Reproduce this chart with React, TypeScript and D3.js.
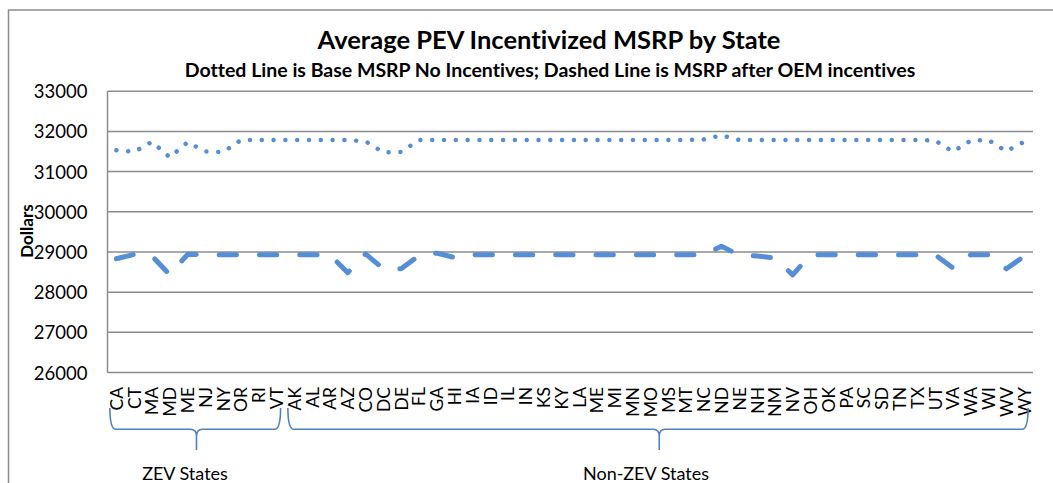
import React from "react";
import * as d3 from "d3";

const states = ["CA","CT","MA","MD","ME","NJ","NY","OR","RI","VT","AK","AL","AR","AZ","CO","DC","DE","FL","GA","HI","IA","ID","IL","IN","KS","KY","LA","ME","MI","MN","MO","MS","MT","NC","ND","NE","NH","NM","NV","OH","OK","PA","SC","SD","TN","TX","UT","VA","WA","WI","WV","WY"];

// Dotted line: Base MSRP, no incentives
const baseMSRP = [31530,31490,31740,31355,31730,31500,31485,31785,31785,31785,31785,31785,31785,31785,31750,31480,31490,31785,31785,31785,31785,31785,31785,31785,31785,31785,31785,31785,31785,31785,31785,31785,31785,31800,31900,31785,31785,31785,31785,31785,31785,31785,31785,31785,31785,31785,31770,31495,31770,31785,31505,31740];

// Dashed line: MSRP after OEM incentives
const oemMSRP = [28830,28940,28900,28430,28940,28930,28930,28930,28930,28930,28930,28930,28930,28485,28950,28580,28580,28910,28970,28860,28930,28930,28930,28930,28930,28930,28930,28930,28930,28930,28930,28930,28930,28930,29140,28920,28900,28850,28430,28930,28930,28930,28930,28930,28930,28930,28930,28600,28930,28930,28580,28890];

const yTicks = [26000,27000,28000,29000,30000,31000,32000,33000];

const groups = [
  { label: "ZEV States", first: 0, last: 9 },
  { label: "Non-ZEV States", first: 10, last: 51 },
];

const title = "Average PEV Incentivized MSRP by State";
const subtitle = "Dotted Line is Base MSRP No Incentives; Dashed Line is MSRP after OEM incentives";

const W = 1053, H = 483;
const plot = { left: 107.5, right: 1033, top: 91.2, bottom: 372.5 };
const FONT = "Lato, 'Open Sans', sans-serif";
const LINE = "#558ed5";
const GRID = "#8c8c8c";
const BRACE = "#4f81bd";

export default function App() {
  const idx = states.map((_, i) => String(i));
  const x = d3.scaleBand<string>().domain(idx).range([plot.left, plot.right]).padding(0);
  const cx = (i: number) => (x(String(i)) as number) + x.bandwidth() / 2;
  const y = d3.scaleLinear().domain([26000, 33000]).range([plot.bottom, plot.top]);

  const line = d3.line<number>().x((_, i) => cx(i)).y((d) => y(d)).curve(d3.curveLinear);

  const braceY0 = 408, braceY1 = 429.3, braceTip = 450;
  const bracePath = (g: { first: number; last: number }) => {
    const x0 = cx(g.first) - 6.5;
    const x1 = cx(g.last) + 4;
    const m = (cx(g.first) + cx(g.last)) / 2;
    const r = 6;
    return `M${x0},${braceY0} Q${x0},${braceY1} ${x0 + r},${braceY1} L${m - r},${braceY1} Q${m},${braceY1} ${m},${braceY1 + 7} L${m},${braceTip} M${m},${braceY1 + 7} Q${m},${braceY1} ${m + r},${braceY1} L${x1 - r},${braceY1} Q${x1},${braceY1} ${x1},${braceY0}`;
  };

  return (
    <svg width={W} height={H} style={{ position: "absolute", left: 0, top: 0, background: "#fff", fontVariantLigatures: "none" }} fontFamily={FONT}>
      <rect x={0} y={0} width={W} height={H} fill="#fff" />
      <rect x={8.5} y={10} width={1200} height={700} fill="none" stroke={GRID} strokeWidth={1.5} />

      <text x={549} y={49} textAnchor="middle" fontWeight="bold" fontSize={25.5} fill="#000">{title}</text>
      <text x={550} y={77} textAnchor="middle" fontWeight="bold" fontSize={19.5} fill="#000">{subtitle}</text>

      {yTicks.map((t) => (
        <g key={t}>
          <line x1={plot.left} x2={plot.right} y1={y(t)} y2={y(t)} stroke={GRID} strokeWidth={1.5} />
          <text x={87.5} y={y(t)} textAnchor="end" dominantBaseline="central" fontSize={18.5} fill="#000">{t}</text>
        </g>
      ))}
      <line x1={plot.left} x2={plot.left} y1={plot.top} y2={plot.bottom} stroke={GRID} strokeWidth={1.5} />

      <text transform={`translate(26,231) rotate(-90)`} textAnchor="middle" dominantBaseline="central" fontWeight="bold" fontSize={17} fill="#000">Dollars</text>

      {states.map((s, i) => (
        <text key={i} transform={`translate(${cx(i)},387) rotate(-90)`} textAnchor="end" dominantBaseline="central" fontSize={17.5} fill="#000">{s}</text>
      ))}

      <path d={line(baseMSRP) || ""} fill="none" stroke={LINE} strokeWidth={4.5} strokeLinecap="round" strokeLinejoin="round" strokeDasharray="0.01 11.8" />
      <path d={line(oemMSRP) || ""} fill="none" stroke={LINE} strokeWidth={5} strokeLinecap="round" strokeLinejoin="round" strokeDasharray="17.3 23" />

      {groups.map((g) => (
        <g key={g.label}>
          <path d={bracePath(g)} fill="none" stroke={BRACE} strokeWidth={1.6} />
          <text x={g.first === 0 ? 185 : 646} y={480} textAnchor="middle" fontSize={18} fill="#000">{g.label}</text>
        </g>
      ))}
    </svg>
  );
}
